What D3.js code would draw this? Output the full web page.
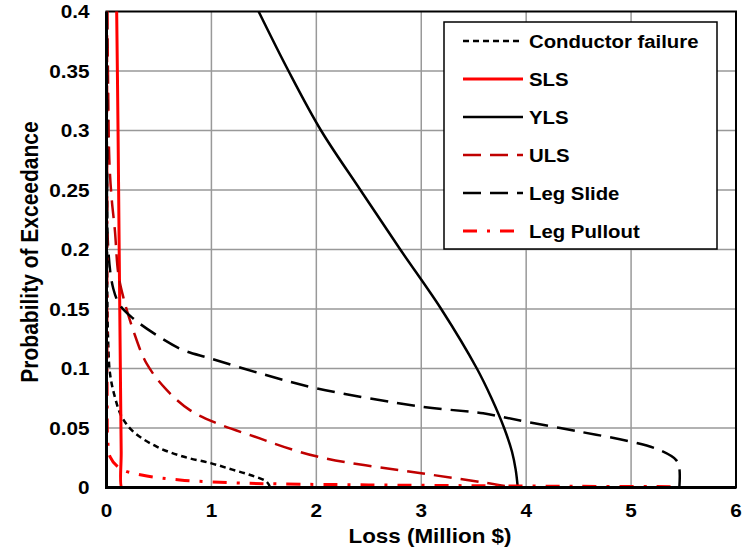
<!DOCTYPE html>
<html><head><meta charset="utf-8">
<script src="https://cdn.jsdelivr.net/npm/d3@7"></script>
<style>body{margin:0;background:#fff}svg{display:block}text{font-family:"Liberation Sans",Arial,sans-serif;font-weight:bold;fill:#000}</style>
</head><body>
<svg id="chart" width="742" height="550"></svg>
<script>
// ---- data (loss in million $, probability of exceedance) ----
const xTicks = [0, 1, 2, 3, 4, 5, 6];
const yTicks = [0, 0.05, 0.1, 0.15, 0.2, 0.25, 0.3, 0.35, 0.4];
const yTickLabels = ["0", "0.05", "0.1", "0.15", "0.2", "0.25", "0.3", "0.35", "0.4"];
const seriesNames = ["Conductor failure", "SLS", "YLS", "ULS", "Leg Slide", "Leg Pullout"];

const conductorLoss = [0.002, 0.004, 0.008, 0.015, 0.033, 0.08, 0.145, 0.255, 0.478, 0.73, 1.0, 1.2, 1.37, 1.525, 1.56];
const conductorProb = [0.4, 0.25, 0.16, 0.125, 0.096, 0.076, 0.0595, 0.047, 0.0343, 0.026, 0.0203, 0.015, 0.0105, 0.005, 0.0];

const slsLoss = [0.097, 0.11, 0.122, 0.132, 0.14, 0.145, 0.17];
const slsProb = [0.4, 0.3, 0.19, 0.1, 0.03, 0.0, 0.0];

const ylsLoss = [1.45, 1.735, 2.045, 2.42, 2.8, 3.19, 3.53, 3.67, 3.79, 3.865, 3.9, 3.92];
const ylsProb = [0.4, 0.35, 0.3, 0.25, 0.2, 0.15, 0.1, 0.075, 0.05, 0.03, 0.015, 0.0];

const ulsLoss = [0.008, 0.017, 0.027, 0.05, 0.08, 0.112, 0.16, 0.255, 0.383, 0.573, 0.795, 1.05, 1.37, 2.0, 3.0, 3.5, 3.75, 3.9];
const ulsProb = [0.4, 0.326, 0.275, 0.242, 0.216, 0.18, 0.16, 0.132, 0.104, 0.082, 0.065, 0.054, 0.044, 0.0262, 0.012, 0.0055, 0.002, 0.0];

const slideLoss = [0.003, 0.008, 0.017, 0.065, 0.13, 0.255, 0.478, 0.73, 0.986, 1.5, 2.0, 3.0, 3.59, 3.76, 4.0, 4.51, 5.0, 5.27, 5.43, 5.46, 5.46];
const slideProb = [0.4, 0.3, 0.2, 0.167, 0.153, 0.142, 0.128, 0.1155, 0.1086, 0.095, 0.0834, 0.068, 0.0624, 0.0595, 0.0553, 0.0469, 0.0385, 0.0315, 0.023, 0.016, 0.0];

const pulloutLoss = [0.003, 0.004, 0.006, 0.012, 0.033, 0.13, 0.335, 0.7, 1.2, 1.65, 2.5, 3.5, 4.5, 5.43];
const pulloutProb = [0.4, 0.2, 0.08, 0.04, 0.026, 0.016, 0.0105, 0.0063, 0.004, 0.003, 0.0022, 0.0015, 0.001, 0.0007];

// ---- layout ----
const svg = d3.select("#chart");
const x = d3.scaleLinear().domain([0, 6]).range([106.5, 736]);
const y = d3.scaleLinear().domain([0, 0.4]).range([487.5, 11.5]);

const series = [
  {name: seriesNames[0], loss: conductorLoss, prob: conductorProb, color: "#000", dash: "6,4", w: 2.5},
  {name: seriesNames[1], loss: slsLoss, prob: slsProb, color: "#ff0000", dash: null, w: 3},
  {name: seriesNames[2], loss: ylsLoss, prob: ylsProb, color: "#000", dash: null, w: 2.5},
  {name: seriesNames[3], loss: ulsLoss, prob: ulsProb, color: "#c00000", dash: "18,9", w: 2.5},
  {name: seriesNames[4], loss: slideLoss, prob: slideProb, color: "#000", dash: "18,9", w: 2.5},
  {name: seriesNames[5], loss: pulloutLoss, prob: pulloutProb, color: "#ff0000", dash: "14,10,3,10", w: 3}
];

// grid
const grid = svg.append("g");
grid.selectAll(".gx").data(xTicks.slice(1, -1)).join("line")
  .attr("x1", d => x(d)).attr("x2", d => x(d)).attr("y1", y(0)).attr("y2", y(0.4))
  .attr("stroke", "#999").attr("stroke-width", 1.5);
grid.selectAll(".gy").data(yTicks.slice(1, -1)).join("line")
  .attr("y1", d => y(d)).attr("y2", d => y(d)).attr("x1", x(0)).attr("x2", x(6))
  .attr("stroke", "#999").attr("stroke-width", 1.5);

// frame
svg.append("rect").attr("x", x(0)).attr("y", y(0.4)).attr("width", x(6) - x(0)).attr("height", y(0) - y(0.4))
  .attr("fill", "none").attr("stroke", "#000").attr("stroke-width", 2);

// clip
svg.append("clipPath").attr("id", "clip").append("rect")
  .attr("x", x(0)).attr("y", y(0.4) - 1).attr("width", x(6) - x(0)).attr("height", y(0) - y(0.4) + 1);

const line = d3.line().x(d => x(d[0])).y(d => y(d[1])).curve(d3.curveCatmullRom.alpha(0.5));
const plot = svg.append("g").attr("clip-path", "url(#clip)");
plot.selectAll("path").data(series).join("path")
  .attr("d", s => line(s.loss.map((v, i) => [v, s.prob[i]])))
  .attr("fill", "none").attr("stroke", s => s.color).attr("stroke-width", s => s.w)
  .attr("stroke-dasharray", s => s.dash);

// axes lines (thicker left/bottom)
svg.append("line").attr("x1", x(0)).attr("x2", x(0)).attr("y1", y(0.4)).attr("y2", y(0) + 1.5).attr("stroke", "#000").attr("stroke-width", 3);
svg.append("line").attr("x1", x(0) - 1.5).attr("x2", x(6)).attr("y1", y(0)).attr("y2", y(0)).attr("stroke", "#000").attr("stroke-width", 3);

// tick labels (reference text is slightly stretched horizontally)
svg.append("g").selectAll("text").data(xTicks).join("text")
  .attr("transform", d => `translate(${x(d)},517) scale(1.12,1)`)
  .attr("text-anchor", "middle").attr("font-size", 18.5).text(d => d);
svg.append("g").selectAll("text").data(yTicks).join("text")
  .attr("transform", d => `translate(89.5,${y(d) + 6.6}) scale(1.12,1)`)
  .attr("text-anchor", "end").attr("font-size", 18.5).text((d, i) => yTickLabels[i]);

// axis titles
svg.append("text").attr("transform", `translate(430,543) scale(1.15,1)`)
  .attr("text-anchor", "middle").attr("font-size", 19.5).text("Loss (Million $)");
svg.append("text").attr("transform", "translate(38,252) rotate(-90) scale(1,1.1)")
  .attr("text-anchor", "middle").attr("font-size", 21).text("Probability of Exceedance");

// legend
const lg = svg.append("g");
lg.append("rect").attr("x", 444).attr("y", 22).attr("width", 273).attr("height", 227)
  .attr("fill", "#fff").attr("stroke", "#000").attr("stroke-width", 1.5);
const rows = lg.selectAll("g.row").data(series).join("g").attr("transform", (d, i) => `translate(0,${41 + i * 38})`);
rows.append("line").attr("x1", 463).attr("x2", 523).attr("y1", 0).attr("y2", 0)
  .attr("stroke", d => d.color).attr("stroke-width", d => d.w).attr("stroke-dasharray", d => d.dash);
rows.append("text").attr("transform", "translate(529,6.6) scale(1.1,1)").attr("font-size", 18.5).text(d => d.name);
</script>
</body></html>
